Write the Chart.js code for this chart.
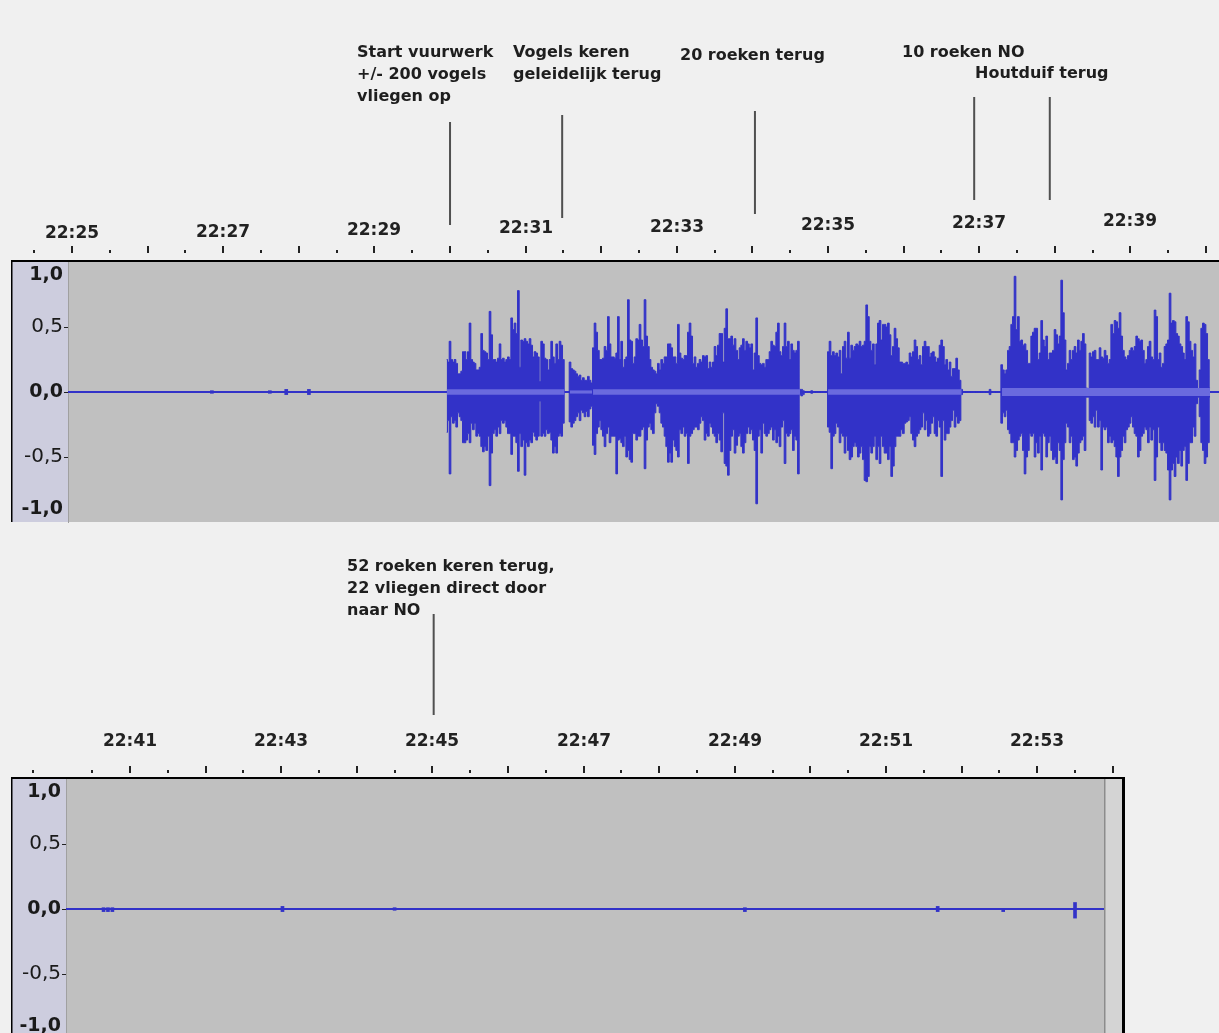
<!DOCTYPE html>
<html>
<head>
<meta charset="utf-8">
<title>Vuurwerk en vogels</title>
<script src="https://cdn.jsdelivr.net/npm/chart.js@4.4.1/dist/chart.umd.min.js"></script>
<style>
  html, body { margin: 0; padding: 0; background: #f0f0f0; overflow: hidden; }
  canvas { position: absolute; left: 0; }
  #topTrack { top: 0; }
  #bottomTrack { top: 530px; }
</style>
</head>
<body>
<canvas id="topTrack" width="1219" height="530"></canvas>
<canvas id="bottomTrack" width="1219" height="515"></canvas>
<script>
// all times in seconds after 22:00:00

// waveform envelope of the top track, amplitude in hundredths
const sampleStep = 1.3228;
const topFirstSample = 1797.35;
const topPeaks = [
  25,23,39,25,23,25,22,14,14,16, 31,31,25,31,53,25,23,22,17,17,
  19,45,32,31,30,25,62,44,25,25, 23,26,37,25,26,23,25,27,25,57,
  48,53,45,78,19,40,39,41,39,37, 41,36,27,31,30,27,8,39,37,26,
  25,17,25,39,27,22,37,25,39,36, 25,
  0,0,0,23,18,17,16,14,12,13,9,11,9,9,12,9,7,
  34,53,46,32,25,25,26,35,32,58, 37,27,27,26,30,58,25,39,19,25,
  27,71,40,39,22,27,41,40,52,40, 35,71,43,35,25,19,17,16,14,22,
  17,25,22,27,27,37,37,34,27,27, 22,52,30,26,25,28,28,46,53,43,
  22,27,19,22,25,
  23,28,27,28,18,23,19,23,35,28, 36,45,45,23,49,64,41,41,43,36,
  41,32,25,34,36,41,32,39,37,34, 37,17,30,57,28,22,21,22,19,25,
  25,31,39,36,35,46,53,31,28,35, 53,35,39,25,37,32,30,32,39,2,
  2,1,0,0,0,0,1,0,0,0, 0,0,0,0,0,0,31,39,28,31,
  28,30,27,32,14,35,39,26,46,26, 36,32,35,37,36,39,35,36,39,67,
  58,39,32,37,21,37,53,55,40,52, 52,50,53,44,28,35,49,41,34,23,
  23,22,22,23,21,30,27,31,40,35, 25,28,21,35,39,35,35,27,30,31,
  27,23,26,36,40,35,21,25,17,23, 12,18,18,26,17,9,2,
  0,0,0,0,0,0,0,0,0,0,0,0,0,0,0,0,2,0,0,0,0,0,0,
  21,17,14,17,32,35,52,58,89,48, 58,39,40,36,37,32,22,22,43,46,
  49,49,25,30,55,40,35,43,25,30, 30,32,48,44,37,43,86,61,40,17,
  22,32,25,32,35,30,40,32,39,45, 37,3,2,30,27,31,32,25,25,34,
  27,26,32,28,22,25,52,45,55,54, 49,61,43,32,27,25,28,32,34,32,
  35,43,41,39,40,32,22,25,35,39, 27,25,63,58,25,30,19,22,35,37,
  40,76,53,55,54,45,43,37,35,30, 25,58,54,39,32,27,37,9,1,17,
  49,53,52,45,25,3
];
const topTroughs = [
  31,22,63,19,24,22,27,16,19,22, 39,39,37,32,39,24,29,24,34,32,
  34,42,46,42,45,34,72,47,32,29, 34,27,32,22,24,22,27,32,32,48,
  34,34,39,61,32,42,37,64,39,42, 37,39,31,34,37,34,7,34,32,34,
  29,32,31,37,47,42,47,34,32,34, 24,
  0,0,0,23,27,24,22,19,16,22,14,16,19,15,19,13,11,
  41,48,32,27,22,29,34,42,32,27, 39,34,34,34,63,37,36,39,42,34,
  50,45,52,54,32,32,37,34,34,29, 27,59,37,27,24,29,32,16,9,11,
  16,24,27,34,42,54,47,54,37,42, 45,50,29,32,27,34,32,55,34,32,
  29,27,27,29,24,
  19,22,37,32,34,24,27,32,34,39, 32,37,46,16,55,57,64,45,34,29,
  47,41,34,32,42,47,39,32,27,32, 29,37,45,86,34,29,47,24,32,34,
  32,29,27,37,29,39,34,42,27,22, 55,32,34,32,29,45,34,37,63,2,
  3,2,0,0,0,0,1,0,0,0, 0,0,0,0,0,0,27,31,59,34,
  32,24,27,39,32,34,47,34,45,52, 50,42,39,42,50,47,42,52,68,69,
  65,42,47,42,34,52,42,55,34,42, 47,47,52,42,65,57,42,34,34,34,
  29,32,24,23,22,19,32,37,42,34, 32,29,27,16,29,22,34,32,24,19,
  32,34,22,27,65,22,37,32,32,27, 22,14,27,19,24,22,2,
  0,0,0,0,0,0,0,0,0,0,0,0,0,0,0,0,2,0,0,0,0,0,0,
  24,16,19,14,29,32,39,39,50,45, 37,34,32,45,63,50,45,32,34,32,
  50,39,47,34,60,32,34,50,39,34, 45,52,50,55,39,45,83,52,39,24,
  27,39,34,52,50,57,47,39,37,34, 45,4,4,22,24,19,27,14,27,22,
  60,27,29,27,39,34,39,37,42,50, 65,50,45,34,39,29,27,24,19,27,
  32,34,50,45,34,32,27,29,39,27, 37,29,68,50,27,39,45,39,45,47,
  60,83,60,55,65,50,55,45,57,45, 42,68,55,39,39,27,34,9,4,19,
  39,45,55,50,39,4
];

// light rms band inside each burst
const rmsFrom  = [1797.4, 1895.2, 1913.5, 2100.0, 2238.1];
const rmsTo    = [1890.9, 1912.7, 2077.8, 2206.1, 2403.2];
const rmsLevel = [0.022, 0.012, 0.022, 0.022, 0.03];

// isolated little clicks on the quiet stretches
const topBlipTimes = [1611, 1657, 1670, 1688];
const topBlipLow   = [-0.01, -0.01, -0.02, -0.02];
const topBlipHigh  = [0.01, 0.01, 0.02, 0.02];
const bottomBlipTimes = [2439, 2442.5, 2446, 2581, 2670, 2948, 3101, 3153, 3210];
const bottomBlipLow   = [-0.02, -0.02, -0.02, -0.02, -0.01, -0.02, -0.02, -0.02, -0.07];
const bottomBlipHigh  = [0.01, 0.01, 0.01, 0.02, 0.01, 0.01, 0.02, 0.0, 0.05];

// remarks
const topNoteTimes = ['22:30:00', '22:31:29', '22:34:02', '22:36:56', '22:37:56'];
const topNoteTexts = [
  ['Start vuurwerk', '+/- 200 vogels', 'vliegen op'],
  ['Vogels keren', 'geleidelijk terug'],
  ['20 roeken terug'],
  ['10 roeken NO'],
  ['Houtduif terug']
];
const bottomNoteTimes = ['22:45:01'];
const bottomNoteTexts = [['52 roeken keren terug,', '22 vliegen direct door', 'naar NO']];

function clock(s) {
  const p = s.split(':').map(Number);
  return (p[0] - 22) * 3600 + p[1] * 60 + p[2];
}

function fmt(v) {
  return v.toFixed(1).replace('.', ',');
}

function trackPlugin(cfg) {
  return {
    id: 'track',
    beforeDraw(chart) {
      const ctx = chart.ctx, a = chart.chartArea, ys = chart.scales.y, xs = chart.scales.x;
      const off = cfg.pageTop;
      const h = a.bottom - a.top;
      ctx.save();
      ctx.fillStyle = '#f0f0f0';
      ctx.fillRect(0, 0, chart.width, chart.height);
      ctx.fillStyle = '#cdcdde';
      ctx.fillRect(ys.left, a.top, ys.right - ys.left, h);
      ctx.fillStyle = '#c0c0c0';
      ctx.fillRect(a.left, a.top, a.right - a.left, h);

      let frameRight = a.right;
      if (cfg.strip) {
        ctx.fillStyle = '#d4d4d4';
        ctx.fillRect(a.right, a.top, cfg.strip, h);
        ctx.fillStyle = '#8c8c8c';
        ctx.fillRect(a.right, a.top, 1.5, h);
        frameRight = a.right + cfg.strip;
        ctx.fillStyle = '#000';
        ctx.fillRect(frameRight, a.top - 2, 3, h + 2);
        frameRight += 3;
      }
      ctx.fillStyle = '#000';
      ctx.fillRect(ys.left - 1, a.top - 2, frameRight - ys.left + 1, 2);
      ctx.fillRect(ys.left - 1, a.top - 2, 1.5, h + 2);

      // time ruler
      const ticks = cfg.rulerExtra.slice();
      for (let t = cfg.rulerFrom; t <= cfg.rulerTo; t += 30) ticks.push(t);
      ctx.fillStyle = '#222';
      ctx.font = 'bold 17px "DejaVu Sans"';
      ctx.textAlign = 'center';
      ctx.textBaseline = 'middle';
      ticks.forEach(t => {
        const px = Math.round(xs.getPixelForValue(t));
        const major = t % 60 === 0;
        const len = major ? 7 : 3;
        ctx.fillRect(px - 1, cfg.tickBottom - off - len, 2, len);
        if (major && (t / 60) % 2 === 1) {
          const y = cfg.labelY - off + cfg.labelSlope * (px - a.left);
          ctx.fillText('22:' + String(t / 60).padStart(2, '0'), px, y);
        }
      });

      // remarks with their markers
      ctx.font = 'bold 16px "DejaVu Sans"';
      ctx.textAlign = 'left';
      cfg.noteTimes.forEach((time, i) => {
        const L = cfg.noteLayout[i];
        ctx.fillStyle = '#1e1e1e';
        cfg.noteTexts[i].forEach((line, j) => ctx.fillText(line, L.x, L.y - off + j * 22));
        const px = xs.getPixelForValue(clock(time));
        ctx.fillStyle = '#505050';
        ctx.fillRect(px - 1, L.top - off, 2, L.bottom - L.top);
      });
      ctx.restore();
    }
  };
}

function makeTrack(id, cfg) {
  const blue = '#3232c8';
  const peaks = cfg.peaks.map((v, i) => ({ x: cfg.first + i * sampleStep, y: v / 100 }));
  const troughs = cfg.troughs.map((v, i) => ({ x: cfg.first + i * sampleStep, y: -v / 100 }));
  const rmsUp = [], rmsDown = [];
  cfg.rmsFrom.forEach((s, i) => {
    const e = cfg.rmsTo[i], l = cfg.rmsLevel[i];
    rmsUp.push({ x: s, y: l }, { x: e, y: l }, { x: e, y: null });
    rmsDown.push({ x: s, y: -l }, { x: e, y: -l }, { x: e, y: null });
  });
  const blips = cfg.blipTimes.map((t, i) => ({ x: t, y: [cfg.blipLow[i], cfg.blipHigh[i]] }));

  new Chart(document.getElementById(id), {
    type: 'line',
    data: {
      datasets: [
        { data: rmsUp, fill: '+1', backgroundColor: '#6a6ade', borderWidth: 0, pointRadius: 0 },
        { data: rmsDown, fill: false, borderWidth: 0, pointRadius: 0 },
        { data: peaks, fill: '+1', stepped: 'middle', backgroundColor: blue, borderColor: blue, borderWidth: 1, pointRadius: 0 },
        { data: troughs, fill: false, stepped: 'middle', borderColor: blue, borderWidth: 1, pointRadius: 0 },
        { type: 'bar', data: blips, backgroundColor: blue, borderWidth: 0, barThickness: 3, grouped: false },
        { data: [{ x: cfg.range[0], y: 0 }, { x: cfg.range[1], y: 0 }], borderColor: blue, borderWidth: 2, pointRadius: 0, fill: false }
      ]
    },
    options: {
      responsive: false,
      animation: false,
      events: [],
      layout: { padding: cfg.padding },
      plugins: { legend: { display: false }, tooltip: { enabled: false } },
      scales: {
        x: { type: 'linear', display: false, min: cfg.range[0], max: cfg.range[1], offset: false },
        y: {
          min: -1, max: 1,
          afterFit: s => {
            s.width = cfg.labelWidth;
            s.paddingTop = 0;
            s.paddingBottom = 0;
          },
          ticks: {
            stepSize: 0.5,
            padding: 1,
            color: '#1a1a1a',
            font: c => {
              const whole = c.tick && c.tick.value % 1 === 0;
              return { family: 'DejaVu Sans', size: whole ? 19 : 20, lineHeight: 1.4, weight: whole ? 'bold' : 'normal' };
            },
            callback: v => v === 1 ? ['', fmt(v)] : v === -1 ? [fmt(v), ''] : fmt(v)
          },
          grid: {
            drawOnChartArea: false,
            tickLength: 4,
            tickWidth: 1,
            tickColor: c => (c.tick && Math.abs(c.tick.value) === 1) ? 'rgba(0,0,0,0)' : '#222'
          },
          border: { color: '#a0a0a0', width: 1 }
        }
      }
    },
    plugins: [trackPlugin(cfg)]
  });
}

makeTrack('topTrack', {
  pageTop: 0,
  padding: { top: 262, bottom: 8, left: 12, right: 0 },
  labelWidth: 56,
  range: [1496.8, 2410.3],
  first: topFirstSample, peaks: topPeaks, troughs: topTroughs,
  rmsFrom, rmsTo, rmsLevel,
  blipTimes: topBlipTimes, blipLow: topBlipLow, blipHigh: topBlipHigh,
  rulerFrom: 1470, rulerTo: 2400, rulerExtra: [],
  tickBottom: 253, labelY: 234, labelSlope: -0.0113,
  noteTimes: topNoteTimes, noteTexts: topNoteTexts,
  noteLayout: [
    { x: 357, y: 53, top: 122, bottom: 225 },
    { x: 513, y: 53, top: 115, bottom: 218 },
    { x: 680, y: 56, top: 111, bottom: 214 },
    { x: 902, y: 53, top: 97, bottom: 200 },
    { x: 975, y: 74, top: 97, bottom: 200 }
  ],
  strip: 0
});

makeTrack('bottomTrack', {
  pageTop: 530,
  padding: { top: 249, bottom: 6, left: 12, right: 115 },
  labelWidth: 54,
  range: [2409.2, 3233.0],
  first: 0, peaks: [], troughs: [],
  rmsFrom: [], rmsTo: [], rmsLevel: [],
  blipTimes: bottomBlipTimes, blipLow: bottomBlipLow, blipHigh: bottomBlipHigh,
  rulerFrom: 2430, rulerTo: 3240, rulerExtra: [2383],
  tickBottom: 773, labelY: 742, labelSlope: 0,
  noteTimes: bottomNoteTimes, noteTexts: bottomNoteTexts,
  noteLayout: [{ x: 347, y: 567, top: 614, bottom: 715 }],
  strip: 18
});
</script>
</body>
</html>
